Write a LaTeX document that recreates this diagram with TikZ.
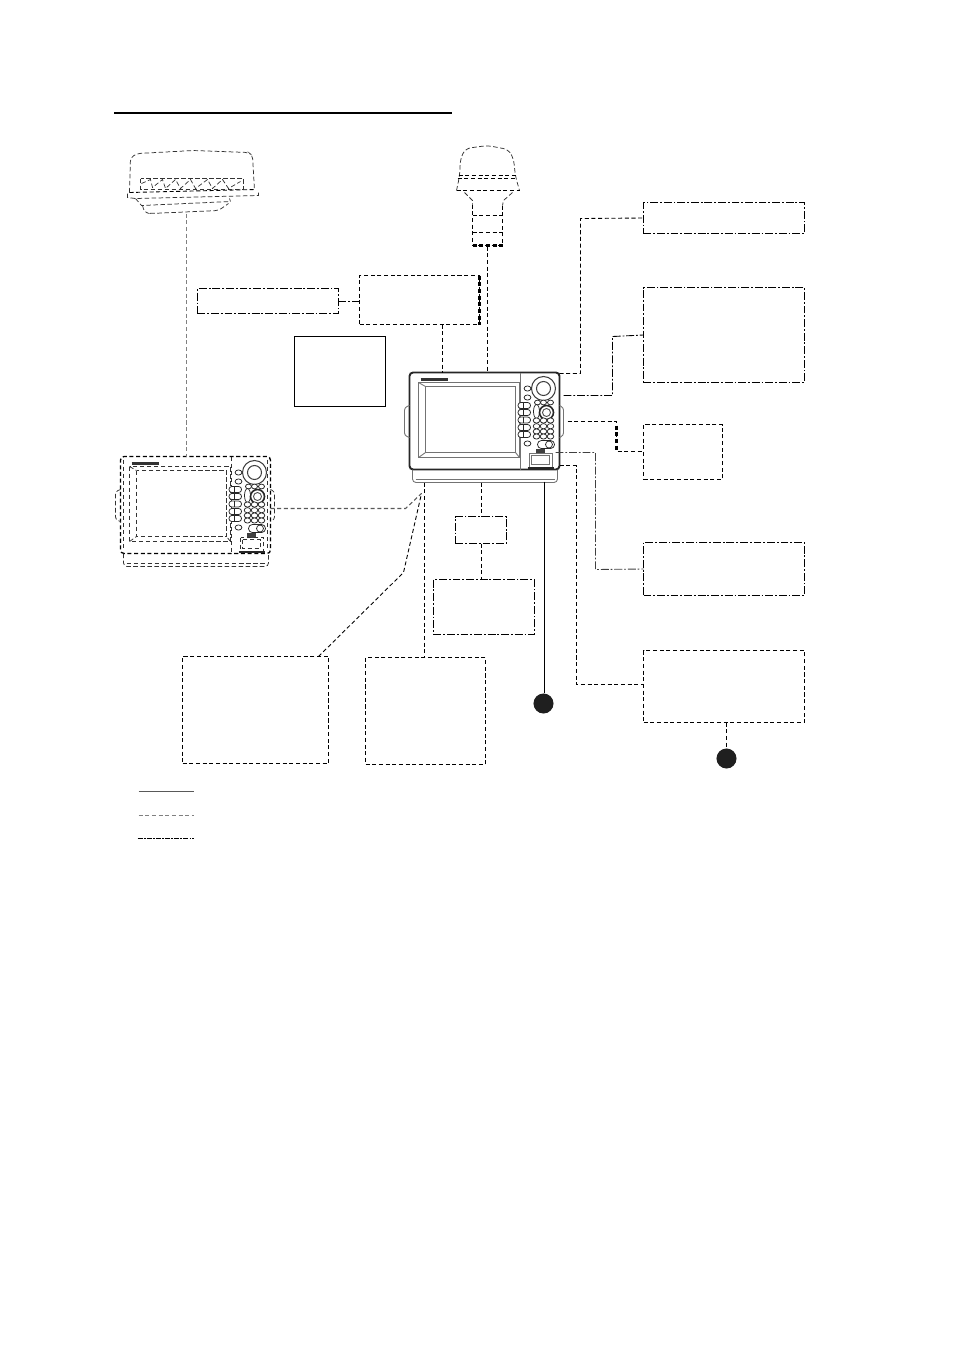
\documentclass[tikz,border=0pt]{standalone}
\usetikzlibrary{shapes.geometric,calc}
\tikzset{
  dashline/.style={draw=black,line width=0.5pt,dash pattern=on 2.3pt off 1.5pt},
  dotline/.style={draw=black,line width=0.5pt,dash pattern=on 4.5pt off 1.1pt on 1pt off 1.1pt},
  greyline/.style={draw=black!50,line width=0.8pt,dash pattern=on 2.3pt off 1.5pt},
  thinline/.style={draw=black!80,line width=0.42pt,dash pattern=on 2.6pt off 1.4pt},
  keyline/.style={draw=black!85,line width=0.42pt,fill=white},
  boxsize/.style 2 args={minimum width=#1*0.56906pt,minimum height=#2*0.56906pt},
  dashbox/.style={rectangle,dashline,inner sep=0pt,outer sep=0pt},
  dotbox/.style={rectangle,dotline,inner sep=0pt,outer sep=0pt},
  port/.style={circle,fill=black!88,draw=none,minimum size=11.4pt,inner sep=0pt,outer sep=0pt}
}
% #1 origin, #2 name, #3 case style, #4 inner style
\newcommand{\displayunit}[4]{
  \begin{scope}[shift={(#1)}]
    \node[rectangle,rounded corners=2pt,inner sep=0pt,outer sep=0pt,boxsize={150}{97},#3] (#2) at (75,48.5) {};
    % Handles and bracket
    \draw[#4,rounded corners=1.5pt] (0,33) -- (-5,35) -- (-5,63) -- (0,65);
    \draw[#4,rounded corners=1.5pt] (150,33) -- (154,35) -- (154,63) -- (150,65);
    \draw[#4,rounded corners=2pt] (3,97) -- (3,110) -- (148,110) -- (148,97);
    \draw[#4] (6,107) -- (145,107);
    % Screen
    \draw[#4] (111,0) -- (111,97);
    \draw[#4] (9,10) rectangle (110,85);
    \draw[#4] (16,14) rectangle (106,80);
    \draw[#4] (9,10) -- (16,14) (110,85) -- (106,80) (9,85) -- (16,80);
    \draw[line width=1.2pt,black!80] (11,7) -- (38,7);
    % Dial and side keys
    \draw[black!75,line width=0.6pt] (134,16) circle (12);
    \draw[black!75,line width=0.6pt] (134,16) circle (7);
    \foreach \ky in {16,25,71}
      \draw[keyline] (118,\ky) ellipse (3.4 and 2.6);
    \foreach \ky in {33,40,47.5,55,62} {
      \draw[keyline,rounded corners=1.6pt] (108.5,\ky-3) rectangle (121,\ky+3);
      \draw[keyline,line width=0.35pt] (114,\ky-3) -- (114,\ky+3);
    }
    % Keypad
    \foreach \kx in {128,134,141}
      \draw[keyline] (\kx,30) ellipse (3 and 2.4);
    \draw[keyline] (127,39) ellipse (3 and 7);
    \draw[black!85,line width=0.9pt] (137,40) circle (7);
    \draw[black!70,line width=0.5pt] (137,40) circle (4);
    \foreach \kx in {127,134,141}
      \foreach \ky in {48,53.7,59,64}
        \draw[keyline] (\kx,\ky) ellipse (3.3 and 2.6);
    \draw[keyline,rounded corners=2.2pt] (128,68) rectangle (145,76);
    \draw[keyline] (139.5,72) circle (3.5);
    % Card slot
    \fill[black!75] (126,76) rectangle (135,81);
    \draw[#4] (120,81) rectangle (143,95);
    \draw[#4] (122,83) rectangle (140,92);
    \draw[line width=0.9pt,black!85] (118,95.5) -- (144,95.5);
  \end{scope}
}
\begin{document}
\begin{tikzpicture}[x=0.02cm,y=-0.02cm]
  \useasboundingbox (0,0) rectangle (954,1350);
  \begin{scope}[shift={(0.5,0.5)}]
  % Title rule
  \coordinate (ruleL) at (113.5,112.5);
  \coordinate (ruleR) at (451.5,112.5);
  \draw[line width=1.4pt,black] (ruleL) -- (ruleR);

  % Radar antenna
  \coordinate (radarB) at (186,213);
  \draw[thinline,rounded corners=2pt] (129,192) -- (130,157) -- (137,153) -- (193,150) -- (248,152) -- (252,155) -- (254,190);
  \draw[dashline] (129,192) -- (255,189);
  \draw[thinline] (127,193) -- (127,197) -- (135,198) -- (258,195) -- (258,190);
  \draw[thinline] (135,198) -- (141,205) -- (230,201) -- (229,198);
  \draw[thinline,rounded corners=2pt] (142,205) -- (144,212) -- (150,213) -- (218,210) -- (228,203);
  \draw[thinline,line width=0.4pt] (140,178) rectangle (243,189);
  \draw[thinline,line width=0.4pt] (141,183) -- (150,179) -- (152,187) -- (162,179) -- (165,188) -- (175,179) -- (180,188) -- (190,179) -- (195,188) -- (207,179) -- (212,188) -- (222,179) -- (228,188) -- (240,181);

  % GPS antenna
  \coordinate (gpsB) at (487,246);
  \draw[thinline,rounded corners=3pt] (456,190) -- (459,176) -- (460,158) -- (465,148) -- (487,145) -- (508,149) -- (513,158) -- (515,176) -- (519,190);
  \draw[dashline] (458,175) -- (516,175) (457,178) -- (517,178) (456,190) -- (519,190);
  \draw[thinline] (464,192) -- (472,200) -- (472,204);
  \draw[thinline] (512,192) -- (503,200) -- (502,205);
  \draw[dashline] (472,204) -- (472,245) -- (502,245) -- (502,205);
  \draw[dashline,line width=1.3pt] (472,245) -- (502,245);
  \draw[dashline] (472,215) -- (502,215) (472,232) -- (502,232);

  % Units
  \displayunit{409,372}{mainunit}{draw=black!85,line width=1.1pt}{draw=black!55,line width=0.5pt}
  \displayunit{120,456}{subunit}{dashline,line width=0.75pt}{thinline}
  \draw[thinline] (123,459) -- (123,550) (267,459) -- (267,550);

  % Boxes
  \node[dotbox,boxsize={141}{25}] (mfdbox) at (267.5,300.5) {};
  \node[dashbox,boxsize={120}{49}] (hubbox) at (419,299.5) {};
  \node[rectangle,draw=black,line width=0.5pt,inner sep=0pt,outer sep=0pt,boxsize={91}{70}] (notebox) at (339.5,371) {};
  \node[dotbox,boxsize={161}{31}] (aisbox) at (723.5,217.5) {};
  \node[dotbox,boxsize={161}{95}] (navbox) at (723.5,334.5) {};
  \node[dashbox,boxsize={79}{55}] (buzbox) at (682.5,451.5) {};
  \node[dotbox,boxsize={161}{53}] (dcbox) at (723.5,568.5) {};
  \node[dashbox,boxsize={161}{72}] (sndbox) at (723.5,686) {};
  \node[dotbox,boxsize={51}{27}] (recbox) at (480.5,529.5) {};
  \node[dotbox,boxsize={101}{55}] (acbox) at (483.5,606.5) {};
  \node[dashbox,boxsize={146}{107}] (leftbox) at (255,709.5) {};
  \node[dashbox,boxsize={120}{107}] (midbox) at (425,710.5) {};
  \node[port] (portA) at (543,703) {};
  \node[port] (portB) at (726,758) {};

  % Connectors
  \coordinate (tapA) at (442,372);
  \coordinate (tapB) at (487,372);
  \coordinate (tapC) at (481,482);
  \coordinate (tapD) at (544,481);
  \coordinate (tapE) at (424,482);
  \coordinate (tapF) at (726,723);
  \draw[greyline] (radarB) -- (subunit.north -| radarB);
  \draw[dotline] (mfdbox.east) -- (hubbox.west |- mfdbox.east);
  \draw[dashline] (hubbox.south -| tapA) -- (tapA);
  \draw[dashline,line width=1.3pt] (hubbox.north east) -- (hubbox.south east);
  \draw[dashline] (gpsB) -- (tapB);
  \draw[dashline] (mainunit.north east) ++(0,1) -- (580,373) -- (580,218) -- (aisbox.west);
  \draw[dotline] (563,395) -- (612,395) -- (612,336) -- (navbox.west);
  \draw[dashline] (567,421) -- (616,421) -- (616,451) -- (buzbox.west |- 0,451);
  \draw[dashline,line width=1.3pt] (616,425) -- (616,451);
  \draw[dotline,draw=black!75] (555,452) -- (595,452) -- (595,569) -- (dcbox.west);
  \draw[dashline] (559,465) -- (576,465) -- (576,684) -- (sndbox.west |- 0,684);
  \draw[dashline] (tapC) -- (recbox.north -| tapC);
  \draw[dashline] (recbox.south -| tapC) -- (acbox.north -| tapC);
  \draw[black,line width=0.5pt] (tapD) -- (portA.north -| tapD);
  \draw[dashline] (sndbox.south -| tapF) -- (portB.north -| tapF);
  \draw[dashline] (tapE) -- (midbox.north -| tapE);
  \draw[greyline,draw=black!65,line width=0.6pt] (subunit.east |- 0,508) -- (405,508) -- (421,493);
  \draw[dashline] (318,656) -- (403,572) -- (421,493);

  % Legend
  \coordinate (keyAL) at (138,791);
  \coordinate (keyAR) at (193,791);
  \coordinate (keyBL) at (138,815);
  \coordinate (keyBR) at (193,815);
  \coordinate (keyCL) at (137,838);
  \coordinate (keyCR) at (193,838);
  \draw[black!65,line width=0.7pt] (keyAL) -- (keyAR);
  \draw[greyline,line width=0.5pt] (keyBL) -- (keyBR);
  \draw[dotline,dash pattern=on 3pt off 0.6pt on 1pt off 0.6pt] (keyCL) -- (keyCR);
  \end{scope}
\end{tikzpicture}
\end{document}
